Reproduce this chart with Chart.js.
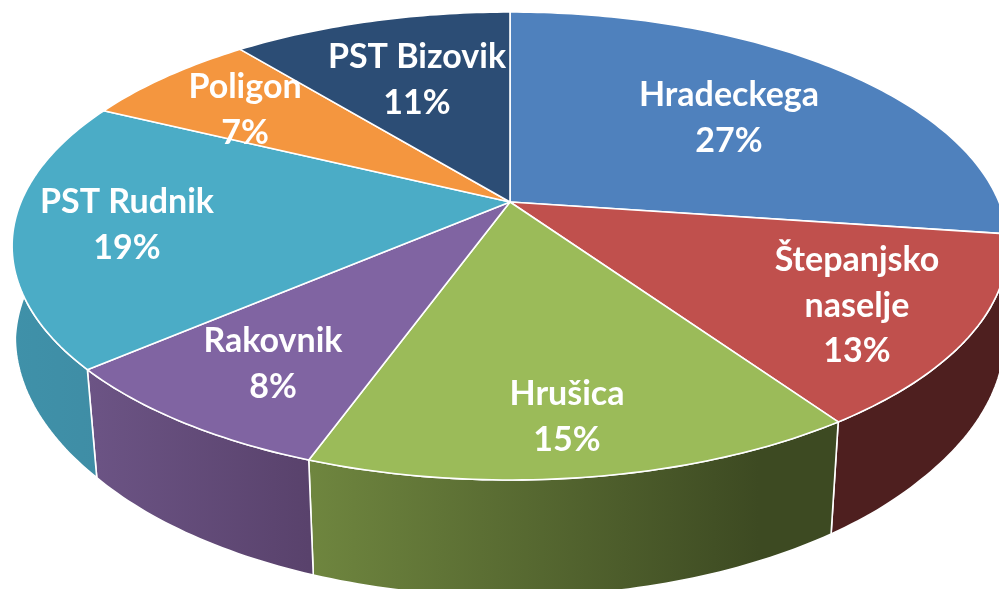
<!DOCTYPE html>
<html>
<head>
<meta charset="utf-8">
<title>Pie</title>
<script src="https://cdn.jsdelivr.net/npm/chart.js@4"></script>
<style>
    html, body { margin: 0; padding: 0; background: #fff; overflow: hidden; }
    canvas { display: block; }
</style>
</head>
<body>
<canvas id="pie" width="999" height="589"></canvas>
<script>
// Chart data
const labels = ['Hradeckega', 'Štepanjsko naselje', 'Hrušica', 'Rakovnik', 'PST Rudnik', 'Poligon', 'PST Bizovik'];
const shares = [27.2, 13.2, 15.1, 8.2, 18.51, 6.9, 10.89];

// Colours: top face, then wall gradient left -> right
const topColors = ['#4f81bd', '#c0504d', '#9bbb59', '#8064a2', '#4bacc6', '#f4963f', '#2c4d75'];
const wallColors = [
    ['#2f4d71', '#2f4d71'],
    ['#4e1f1f', '#4e1f1f'],
    ['#6f863f', '#3d4a22'],
    ['#6c5485', '#59426c'],
    ['#3f91a9', '#3f8da5'],
    ['#b06f30', '#b06f30'],
    ['#1d3350', '#1d3350']
];

// Where each label sits, split over lines
const labelLines = [['Hradeckega'], ['Štepanjsko', 'naselje'], ['Hrušica'], ['Rakovnik'], ['PST Rudnik'], ['Poligon'], ['PST Bizovik']];
const labelAt = [[729, 95], [857, 260], [567, 394], [273, 341], [127, 202], [245, 87], [417, 57]];

// Perspective of the disc
const hub = { x: 510, y: 202 };
const radX = 489, radY = 225.7, tilt = 0.188;

// Maps a chart.js arc angle onto the tilted top face
function project(angle) {
    const t = angle + Math.PI / 2;
    const u = Math.sin(t), v = -Math.cos(t);
    const w = 1 - tilt * v;
    return { x: hub.x + radX * u / w, y: hub.y + radY * v / w };
}

// Same point on the lower rim
function lower(p) {
    const ramp = Math.min(1, Math.max(0, (p.y - 240) / 130));
    return {
        x: 515 + (p.x - 515) * (0.994 - 0.016 * ramp),
        y: p.y + 108 + (p.y - 370) * 0.078
    };
}

function rimPoints(el) {
    const pts = [];
    const steps = Math.max(8, Math.ceil((el.endAngle - el.startAngle) * 60));
    for (let i = 0; i <= steps; i++) {
        pts.push(project(el.startAngle + (el.endAngle - el.startAngle) * i / steps));
    }
    return pts;
}

const pie3d = {
    id: 'pie3d',
    beforeDatasetsDraw(chart) {
        const ctx = chart.ctx;
        const arcs = chart.getDatasetMeta(0).data;
        ctx.save();
        ctx.lineJoin = 'round';
        ctx.strokeStyle = '#fff';
        ctx.lineWidth = 1.6;

        // Walls first, the top face covers whatever is behind
        arcs.forEach((el, i) => {
            const rim = rimPoints(el);
            const xs = rim.map(p => p.x);
            const grad = ctx.createLinearGradient(Math.min(...xs), 0, Math.max(...xs), 0);
            grad.addColorStop(0, wallColors[i][0]);
            grad.addColorStop(i === 2 ? 0.85 : 1, wallColors[i][1]);
            grad.addColorStop(1, wallColors[i][1]);
            ctx.beginPath();
            rim.forEach((p, n) => n ? ctx.lineTo(p.x, p.y) : ctx.moveTo(p.x, p.y));
            rim.slice().reverse().forEach(p => {
                const q = lower(p);
                ctx.lineTo(q.x, q.y);
            });
            ctx.closePath();
            ctx.fillStyle = grad;
            ctx.fill();
            ctx.stroke();
        });

        // Top face
        arcs.forEach((el, i) => {
            ctx.beginPath();
            ctx.moveTo(hub.x, hub.y);
            rimPoints(el).forEach(p => ctx.lineTo(p.x, p.y));
            ctx.closePath();
            ctx.fillStyle = topColors[i];
            ctx.fill();
            ctx.stroke();
        });
        ctx.restore();
        return false;
    },
    // returning false above also skips afterDatasetsDraw, so labels go here
    afterDraw(chart) {
        const ctx = chart.ctx;
        const total = shares.reduce((sum, s) => sum + s, 0);
        ctx.save();
        ctx.fillStyle = '#fff';
        ctx.font = 'bold 34px Lato';
        ctx.textAlign = 'center';
        ctx.textBaseline = 'middle';
        labelLines.forEach((lines, i) => {
            const all = lines.concat(Math.round(shares[i] / total * 100) + '%');
            all.forEach((line, n) => ctx.fillText(line, labelAt[i][0], labelAt[i][1] + n * 45.7));
        });
        ctx.restore();
    }
};

new Chart(document.getElementById('pie'), {
    type: 'pie',
    data: {
        labels: labels,
        datasets: [{ data: shares, backgroundColor: topColors }]
    },
    options: {
        responsive: false,
        animation: false,
        plugins: { legend: { display: false }, tooltip: { enabled: false } }
    },
    plugins: [pie3d]
});
</script>
</body>
</html>
